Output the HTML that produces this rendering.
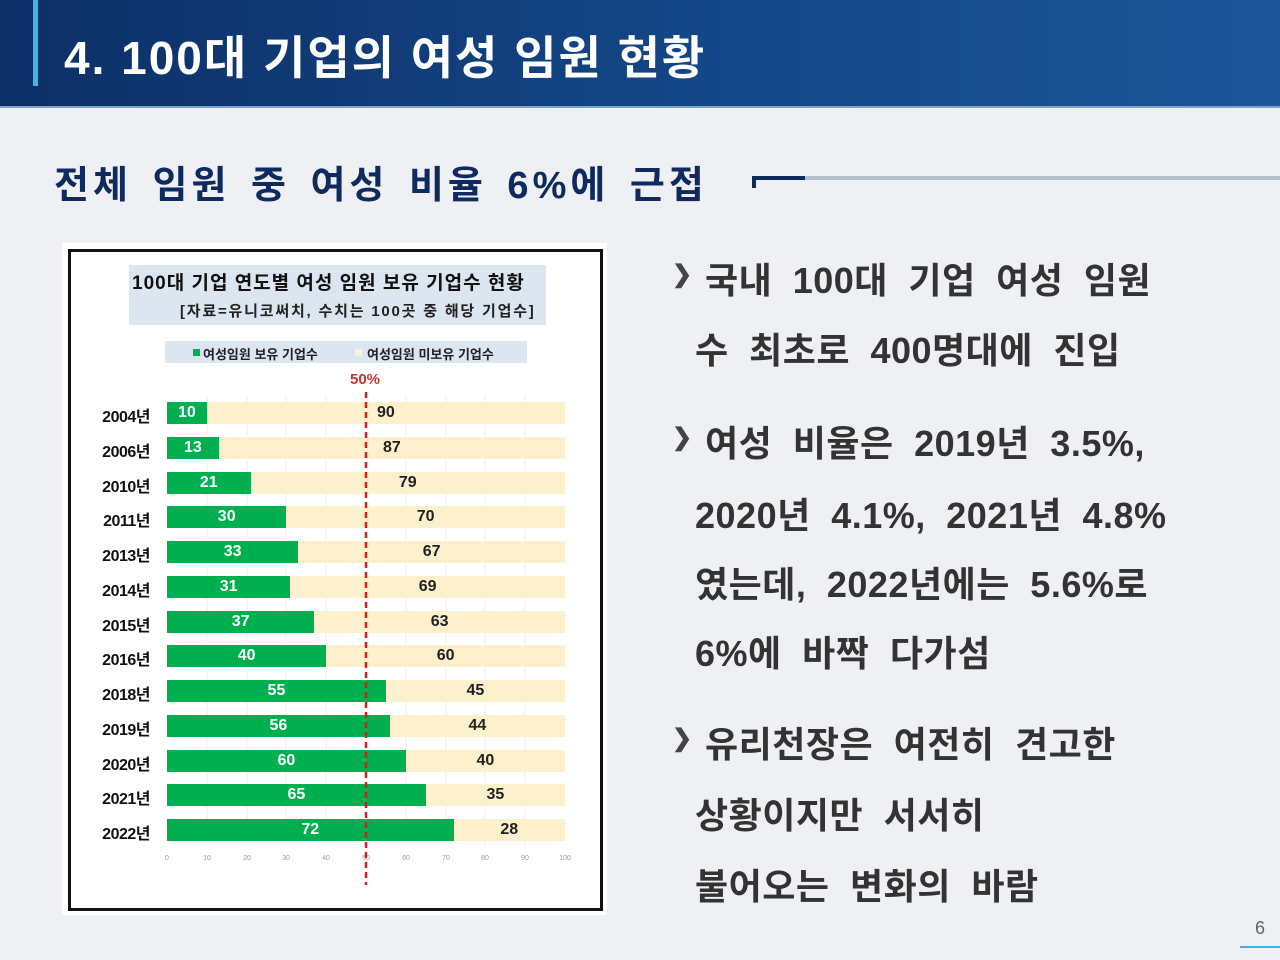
<!DOCTYPE html>
<html><head><meta charset="utf-8"><style>
*{margin:0;padding:0;box-sizing:border-box}
body{width:1280px;height:960px;position:relative;overflow:hidden;background:#eff0f4;font-family:"Liberation Sans","Noto Sans CJK KR",sans-serif}
.a{position:absolute;white-space:nowrap}
#hdr{left:0;top:0;width:1280px;height:108px;background:linear-gradient(90deg,#0d2f66,#14498a 60%,#1c5598);border-bottom:2px solid #7fa2c9}
.bt{font-size:36px;font-weight:bold;color:#333;letter-spacing:0.5px;word-spacing:10px}
.yl{font-size:16px;font-weight:bold;color:#111;width:90px;text-align:right;left:60px;letter-spacing:-0.5px}
.v{font-size:16px;font-weight:bold;text-align:center;line-height:22px}
.bl{font-size:24px;color:#444;font-weight:bold}
</style></head><body>
<div class="a" id="hdr"></div>
<div class="a" style="left:33px;top:0;width:5px;height:86px;background:#3fb4e8"></div>
<div class="a" style="left:64px;top:22px;font-size:46px;font-weight:bold;color:#fff;letter-spacing:2px">4. 100대 기업의 여성 임원 현황</div>
<div class="a" style="left:54px;top:154px;font-size:38px;font-weight:bold;color:#0f2a5e;letter-spacing:4px;word-spacing:6px">전체 임원 중 여성 비율 6%에 근접</div>
<div class="a" style="left:752px;top:176px;width:528px;height:4px;background:#b8bfcc"></div>
<div class="a" style="left:752px;top:176px;width:53px;height:4px;background:#0f2a5e"></div>
<div class="a" style="left:752px;top:176px;width:4px;height:12px;background:#0f2a5e"></div>

<div class="a" style="left:62px;top:243px;width:545px;height:672px;background:#fff"></div>
<div class="a" style="left:68px;top:249px;width:535px;height:662px;border:3px solid #111"></div>
<div class="a" style="left:129px;top:265px;width:417px;height:60px;background:#dce6f0"></div>
<div class="a" style="left:132px;top:268px;font-size:19px;font-weight:bold;color:#111;letter-spacing:1px">100대 기업 연도별 여성 임원 보유 기업수 현황</div>
<div class="a" style="left:180px;top:300px;font-size:15px;font-weight:bold;color:#222;letter-spacing:1.8px">[자료=유니코써치, 수치는 100곳 중 해당 기업수]</div>
<div class="a" style="left:165px;top:341px;width:362px;height:22px;background:#dce6f0"></div>
<div class="a" style="left:193px;top:349px;width:7px;height:7px;background:#00b050"></div>
<div class="a" style="left:203px;top:344px;font-size:13px;font-weight:bold;color:#222">여성임원 보유 기업수</div>
<div class="a" style="left:355px;top:349px;width:7px;height:7px;background:#fdf0cc"></div>
<div class="a" style="left:367px;top:344px;font-size:13px;font-weight:bold;color:#222">여성임원 미보유 기업수</div>
<div class="a" style="left:350px;top:371px;font-size:15px;font-weight:bold;color:#d03030">50%</div>

<svg class="a" style="left:0;top:0" width="1280" height="960">
<g stroke="#ececec" stroke-width="1">
<line x1="207" y1="395" x2="207" y2="845"/><line x1="247" y1="395" x2="247" y2="845"/><line x1="286" y1="395" x2="286" y2="845"/><line x1="326" y1="395" x2="326" y2="845"/><line x1="406" y1="395" x2="406" y2="845"/><line x1="446" y1="395" x2="446" y2="845"/><line x1="485" y1="395" x2="485" y2="845"/><line x1="525" y1="395" x2="525" y2="845"/>
</g>
<g font-family="Liberation Sans" font-size="7" fill="#999" text-anchor="middle">
<text x="167" y="860">0</text><text x="207" y="860">10</text><text x="247" y="860">20</text><text x="286" y="860">30</text><text x="326" y="860">40</text><text x="366" y="860">50</text><text x="406" y="860">60</text><text x="446" y="860">70</text><text x="485" y="860">80</text><text x="525" y="860">90</text><text x="565" y="860">100</text>
</g>
</svg>
<div id="bars"></div>
<svg class="a" style="left:0;top:0" width="1280" height="960"><line x1="366" y1="392" x2="366" y2="885" stroke="#d02020" stroke-width="2.5" stroke-dasharray="6,4"/></svg>

<div class="a bl" style="left:672px;top:260px">&#10095;</div>
<div class="a bt" style="left:705px;top:252px">국내 100대 기업 여성 임원</div>
<div class="a bt" style="left:695px;top:322px">수 최초로 400명대에 진입</div>
<div class="a bl" style="left:672px;top:423px">&#10095;</div>
<div class="a bt" style="left:705px;top:415px">여성 비율은 2019년 3.5%,</div>
<div class="a bt" style="left:695px;top:487px">2020년 4.1%, 2021년 4.8%</div>
<div class="a bt" style="left:695px;top:556px">였는데, 2022년에는 5.6%로</div>
<div class="a bt" style="left:695px;top:625px">6%에 바짝 다가섬</div>
<div class="a bl" style="left:672px;top:724px">&#10095;</div>
<div class="a bt" style="left:705px;top:716px">유리천장은 여전히 견고한</div>
<div class="a bt" style="left:695px;top:787px">상황이지만 서서히</div>
<div class="a bt" style="left:695px;top:858px">불어오는 변화의 바람</div>
<div class="a" style="left:1255px;top:918px;font-size:18px;color:#666">6</div>
<div class="a" style="left:1240px;top:946px;width:40px;height:2px;background:#3fb4e8"></div>
<script>
var d=[["2004",10],["2006",13],["2010",21],["2011",30],["2013",33],["2014",31],["2015",37],["2016",40],["2018",55],["2019",56],["2020",60],["2021",65],["2022",72]];
var h="";
d.forEach(function(r,i){var y=413+i*34.75-11,g=r[1]*3.98,x0=167;
h+='<div class="a yl" style="top:'+(y+1)+'px">'+r[0]+'년</div>';
h+='<div class="a" style="left:'+x0+'px;top:'+y+'px;width:398px;height:22px;background:#fdf0cc"></div>';
h+='<div class="a v" style="left:'+x0+'px;top:'+y+'px;width:'+g+'px;height:22px;background:#00b050;color:#fff">'+r[1]+'</div>';
h+='<div class="a v" style="left:'+(x0+g)+'px;top:'+y+'px;width:'+(398-g)+'px;color:#222">'+(100-r[1])+'</div>';});
document.getElementById("bars").innerHTML=h;
</script>
</body></html>
